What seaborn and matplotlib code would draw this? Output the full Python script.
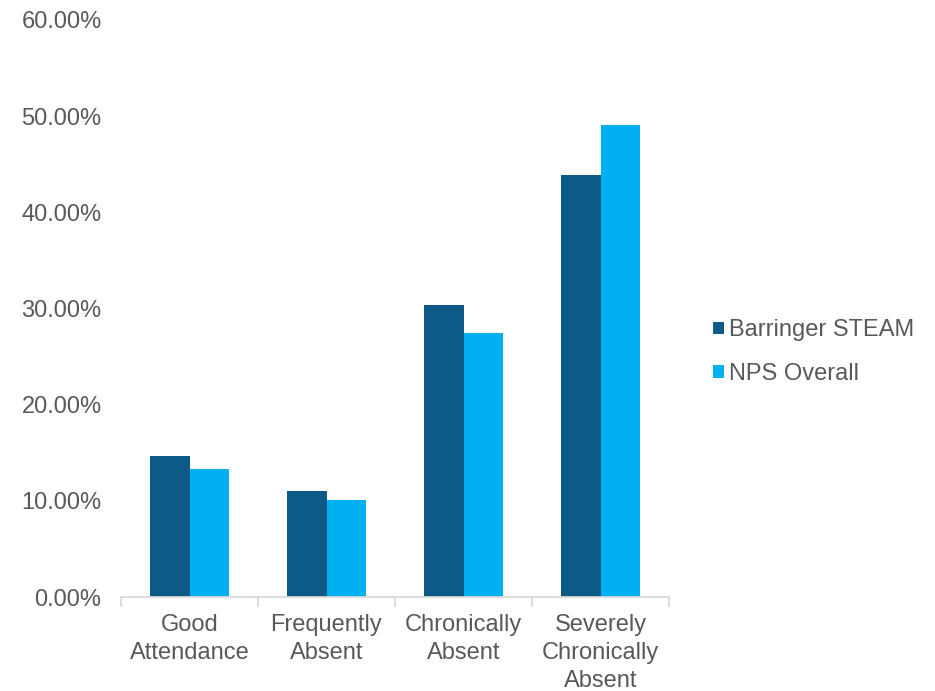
import matplotlib
matplotlib.use("Agg")
import matplotlib.pyplot as plt
import seaborn as sns
import pandas as pd
from matplotlib.patches import Patch
from matplotlib.ticker import FuncFormatter

categories = ["Good\nAttendance", "Frequently\nAbsent", "Chronically\nAbsent", "Severely\nChronically\nAbsent"]
series_names = ["Barringer STEAM", "NPS Overall"]
barringer = [14.71, 11.04, 30.37, 43.86]
nps = [13.33, 10.10, 27.46, 49.09]
colors = ["#0E5A87", "#00B0F0"]
y_ticks = [0, 10, 20, 30, 40, 50, 60]

df = pd.DataFrame({
    "category": categories * 2,
    "series": [series_names[0]] * 4 + [series_names[1]] * 4,
    "value": barringer + nps,
})

sns.set_theme(style="white")
plt.rcParams["font.family"] = ["Liberation Sans", "DejaVu Sans"]
text_color = "#595959"

fig = plt.figure(figsize=(9.35, 6.91), dpi=100)
ax = fig.add_axes([121 / 935, 1 - 597 / 691, (669 - 121) / 935, (597 - 20) / 691])

sns.barplot(data=df, x="category", y="value", hue="series", order=categories,
            hue_order=series_names, palette=colors, width=0.57, ax=ax,
            legend=False, saturation=1, edgecolor="none", linewidth=0)

ax.set_xlim(-0.5, 3.5)
ax.set_ylim(0, 60)
ax.set_yticks(y_ticks)
ax.yaxis.set_major_formatter(FuncFormatter(lambda v, p: f"{v:.2f}%"))
ax.tick_params(axis="y", left=False, length=0, pad=14, labelsize=17, labelcolor=text_color)
ax.tick_params(axis="x", which="major", bottom=False, length=0, pad=12, labelsize=17, labelcolor=text_color)
ax.set_xticks([-0.5, 0.5, 1.5, 2.5, 3.5], minor=True)
ax.tick_params(axis="x", which="minor", bottom=True, length=7, width=1.3, color="#D9D9D9", direction="out")
for lbl in ax.get_xticklabels():
    lbl.set_linespacing(1.36)
ax.set_xlabel("")
ax.set_ylabel("")
for s in ["top", "right", "left"]:
    ax.spines[s].set_visible(False)
ax.spines["bottom"].set_color("#D9D9D9")
ax.spines["bottom"].set_linewidth(1.3)
ax.grid(False)

handles = [Patch(facecolor=c, edgecolor="none", label=n) for c, n in zip(colors, series_names)]
fig.legend(handles=handles, loc="center left", bbox_to_anchor=(692 / 935, 1 - 352 / 691),
           frameon=False, fontsize=17, handlelength=0.45, handleheight=0.45,
           handletextpad=0.2, labelspacing=0.9, labelcolor=text_color)

fig.savefig("out.png", dpi=100)
